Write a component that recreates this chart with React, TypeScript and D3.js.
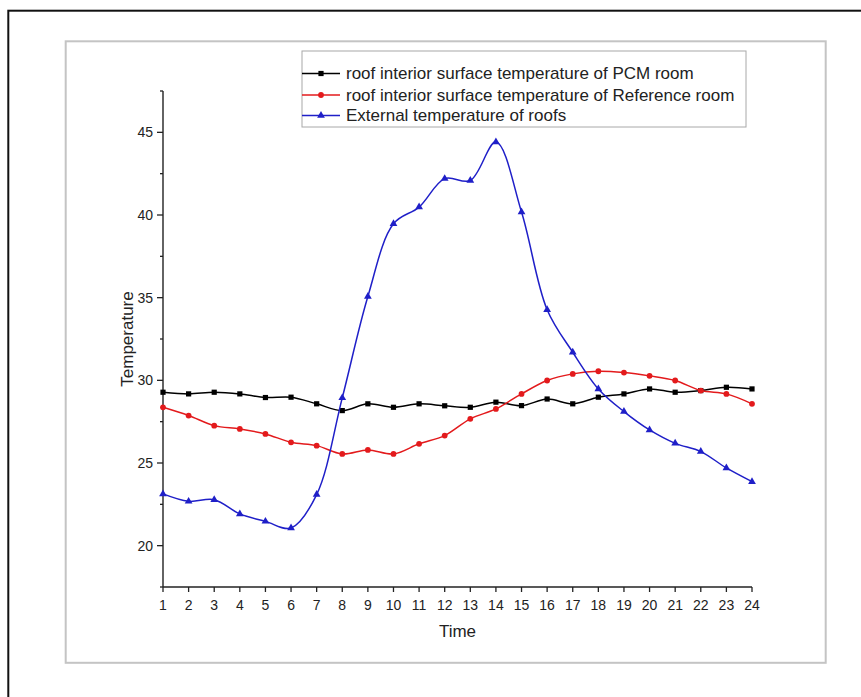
import React from "react";
import * as d3 from "d3";

const hours = [1,2,3,4,5,6,7,8,9,10,11,12,13,14,15,16,17,18,19,20,21,22,23,24];
const pcmRoom = [29.28,29.18,29.28,29.18,28.96,28.98,28.58,28.17,28.58,28.37,28.58,28.46,28.37,28.68,28.47,28.87,28.58,28.98,29.18,29.48,29.28,29.38,29.58,29.48];
const referenceRoom = [28.37,27.87,27.26,27.06,26.76,26.25,26.05,25.55,25.79,25.55,26.16,26.66,27.67,28.27,29.18,29.99,30.39,30.55,30.47,30.27,29.99,29.38,29.18,28.58];
const externalRoof = [23.13,22.68,22.78,21.92,21.47,21.07,23.09,28.94,35.07,39.47,40.48,42.2,42.09,44.41,40.18,34.27,31.7,29.48,28.11,27.0,26.19,25.69,24.7,23.87];
const yMajorTicks = [20,25,30,35,40,45];
const yMinorTicks = [17.5,22.5,27.5,32.5,37.5,42.5,47.5];
const seriesNames = [
  "roof interior surface temperature of PCM room",
  "roof interior surface temperature of Reference room",
  "External temperature of roofs",
];
const seriesColors = ["#000000", "#e31a1c", "#1f1fc8"];
const seriesShapes = ["square", "circle", "triangle"];

const W = 861, H = 697;
const plot = { left: 163, right: 752, top: 91, bottom: 587 };

export default function App() {
  const x = d3.scaleLinear().domain([1, 24]).range([plot.left, plot.right]);
  const y = d3.scaleLinear().domain([17.5, 47.5]).range([plot.bottom, plot.top]);
  const series = [pcmRoom, referenceRoom, externalRoof];
  const line = d3.line<number>()
    .x((_, i) => x(hours[i]))
    .y((d) => y(d))
    .curve(d3.curveCatmullRom.alpha(0.5));

  const marker = (shape: string, cx: number, cy: number, color: string, key: string) => {
    if (shape === "square") return <rect key={key} x={cx - 2.6} y={cy - 2.6} width={5.2} height={5.2} fill={color} />;
    if (shape === "circle") return <circle key={key} cx={cx} cy={cy} r={2.9} fill={color} />;
    const p = d3.symbol().type(d3.symbolTriangle).size(26)();
    return <path key={key} d={p || ""} transform={`translate(${cx},${cy})`} fill={color} />;
  };

  const font = "'Liberation Sans', Arial, sans-serif";
  const legend = { x: 302, y: 51, w: 444, h: 76, rows: [73.5, 95, 115.5] };

  return (
    <svg width={W} height={H} style={{ position: "absolute", left: 0, top: 0, background: "#fff" }} fontFamily={font}>
      <rect x={0} y={0} width={W} height={H} fill="#fff" />
      <rect x={8.3} y={10.7} width={900} height={750} fill="none" stroke="#111" strokeWidth={2} />
      <rect x={65.7} y={41.3} width={760} height={621.5} fill="none" stroke="#c4c4c4" strokeWidth={2} />

      {/* axes */}
      <line x1={plot.left} x2={plot.left} y1={plot.top} y2={plot.bottom} stroke="#222" strokeWidth={1.4} />
      <line x1={plot.left} x2={plot.right} y1={plot.bottom} y2={plot.bottom} stroke="#222" strokeWidth={1.4} />
      {yMajorTicks.map((t) => (
        <g key={"ym" + t}>
          <line x1={plot.left - 6} x2={plot.left} y1={y(t)} y2={y(t)} stroke="#222" strokeWidth={1.3} />
          <text x={plot.left - 10} y={y(t)} textAnchor="end" dominantBaseline="central" fontSize={14} fill="#222">{t}</text>
        </g>
      ))}
      {yMinorTicks.map((t) => (
        <line key={"yn" + t} x1={plot.left - 3} x2={plot.left} y1={y(t)} y2={y(t)} stroke="#222" strokeWidth={1.3} />
      ))}
      {hours.map((h) => (
        <g key={"x" + h}>
          <line x1={x(h)} x2={x(h)} y1={plot.bottom} y2={plot.bottom + 5} stroke="#222" strokeWidth={1.3} />
          <text x={x(h)} y={605} textAnchor="middle" dominantBaseline="central" fontSize={14} fill="#222">{h}</text>
        </g>
      ))}
      <text x={(plot.left + plot.right) / 2} y={631} textAnchor="middle" dominantBaseline="central" fontSize={17} fill="#222">Time</text>
      <text transform={`translate(127,${(plot.top + plot.bottom) / 2}) rotate(-90)`} textAnchor="middle" dominantBaseline="central" fontSize={17} fill="#222">Temperature</text>

      {/* series */}
      {series.map((s, si) => (
        <g key={"s" + si}>
          <path d={line(s) || ""} fill="none" stroke={seriesColors[si]} strokeWidth={1.5} />
          {s.map((v, i) => marker(seriesShapes[si], x(hours[i]), y(v), seriesColors[si], `m${si}-${i}`))}
        </g>
      ))}

      {/* legend */}
      <rect x={legend.x} y={legend.y} width={legend.w} height={legend.h} fill="#fff" stroke="#a8a8a8" strokeWidth={1} />
      {seriesNames.map((n, i) => (
        <g key={"l" + i}>
          <line x1={legend.x} x2={legend.x + 38} y1={legend.rows[i]} y2={legend.rows[i]} stroke={seriesColors[i]} strokeWidth={1.5} />
          {marker(seriesShapes[i], legend.x + 19, legend.rows[i], seriesColors[i], "lm" + i)}
          <text x={legend.x + 44} y={legend.rows[i]} dominantBaseline="central" fontSize={17} fill="#222">{n}</text>
        </g>
      ))}
    </svg>
  );
}
